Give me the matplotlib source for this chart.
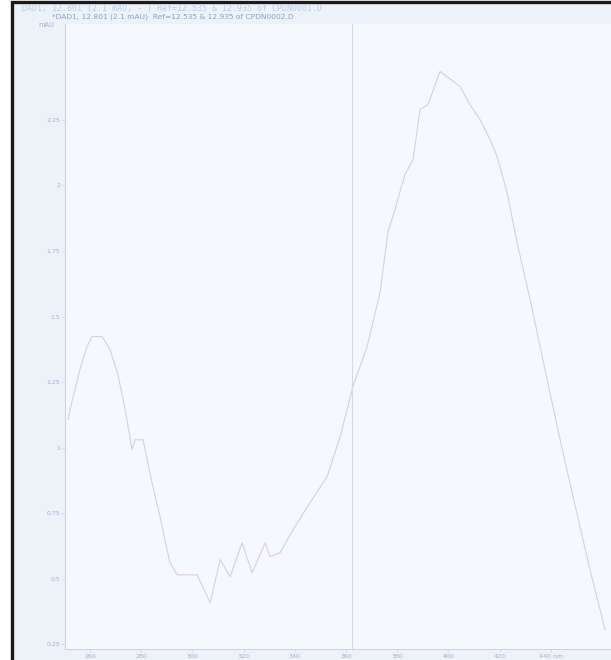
import numpy as np
import matplotlib
matplotlib.use("Agg")
import matplotlib.pyplot as plt
from matplotlib.patches import Rectangle

# DAD spectrum, wavelength (nm) vs absorbance (mAU)
wavelength = [251.4, 253.0, 256.1, 258.8, 260.8, 264.7, 267.8, 270.9, 273.7, 276.4,
              277.6, 280.7, 284.2, 287.3, 291.2, 294.0, 301.8, 306.9, 310.8, 314.7,
              319.4, 323.3, 328.4, 330.3, 334.2, 339.3, 345.9, 352.6, 357.7, 362.7,
              368.2, 373.3, 376.4, 379.1, 383.0, 386.2, 388.9, 392.0, 396.7, 399.8,
              404.5, 408.4, 412.3, 416.2, 419.0, 422.9, 426.8, 431.9, 437.7, 443.6,
              449.4, 455.3, 461.2]
absorbance = [1.107, 1.18, 1.30, 1.386, 1.424, 1.424, 1.374, 1.279, 1.145, 0.992,
              1.03, 1.03, 0.866, 0.737, 0.561, 0.515, 0.515, 0.408, 0.573, 0.508,
              0.637, 0.523, 0.637, 0.584, 0.599, 0.687, 0.790, 0.889, 1.042, 1.233,
              1.385, 1.592, 1.824, 1.908, 2.042, 2.099, 2.290, 2.309, 2.435, 2.412,
              2.378, 2.309, 2.252, 2.176, 2.111, 1.973, 1.782, 1.565, 1.298, 1.031,
              0.782, 0.534, 0.305]

x_ticks = [260, 280, 300, 320, 340, 360, 380, 400, 420, 440]
y_ticks = [0.25, 0.5, 0.75, 1, 1.25, 1.5, 1.75, 2, 2.25]
y_tick_labels = ["0.25", "0.5", "0.75", "1", "1.25", "1.5", "1.75", "2", "2.25"]
cursor_nm = 362.3

title_1 = "DAD1, 12.801 (2.1 mAU, - ) Ref=12.535 & 12.935 of CPDN0001.D"
title_2 = "*DAD1, 12.801 (2.1 mAU)  Ref=12.535 & 12.935 of CPDN0002.D"

W, H = 611, 660
fig = plt.figure(figsize=(W / 100, H / 100), dpi=100)
fig.patch.set_facecolor("white")

# paper frame, drawn on a background axes so the plot sits on top of it
bg = fig.add_axes([0, 0, 1, 1], zorder=-5)
bg.set_xlim(0, W)
bg.set_ylim(H, 0)
bg.axis("off")
bg.add_patch(Rectangle((12, 2), W, H, facecolor="#edf2f9",
                       edgecolor="#1a1a1a", linewidth=2.4))

ax = fig.add_axes([65 / W, (H - 649) / H, (W - 65) / W, (649 - 24) / H])
ax.set_facecolor("#f5f8fc")
ax.plot(wavelength, absorbance, color="#dccfd5", linewidth=0.8)
ax.axvline(cursor_nm, color="#d6dce6", linewidth=0.8)

ax.set_xlim(250.2, 463.5)
ax.set_ylim(0.232, 2.616)
ax.set_xticks(x_ticks)
ax.set_xticklabels([str(t) for t in x_ticks[:-1]] + ["%d nm" % x_ticks[-1]])
ax.set_yticks(y_ticks)
ax.set_yticklabels(y_tick_labels)

txt = "#9fb2cf"
ax.tick_params(axis="both", colors="#c9d3e2", labelcolor=txt, labelsize=4.5,
               length=2, width=0.5, pad=1.5)
for side in ["top", "right"]:
    ax.spines[side].set_visible(False)
for side in ["left", "bottom"]:
    ax.spines[side].set_color("#c8d2e0")
    ax.spines[side].set_linewidth(0.7)

fig.text(22 / W, 1 - 8 / H, title_1, fontsize=6.0, family="DejaVu Sans Mono",
         color="#bccbe2", va="center")
fig.text(52 / W, 1 - 16.5 / H, title_2, fontsize=5.4, color="#8aa0c6", va="center")
fig.text(38 / W, 1 - 25 / H, "mAU", fontsize=4.8, color=txt, va="center")

fig.savefig("out.png", dpi=100)
